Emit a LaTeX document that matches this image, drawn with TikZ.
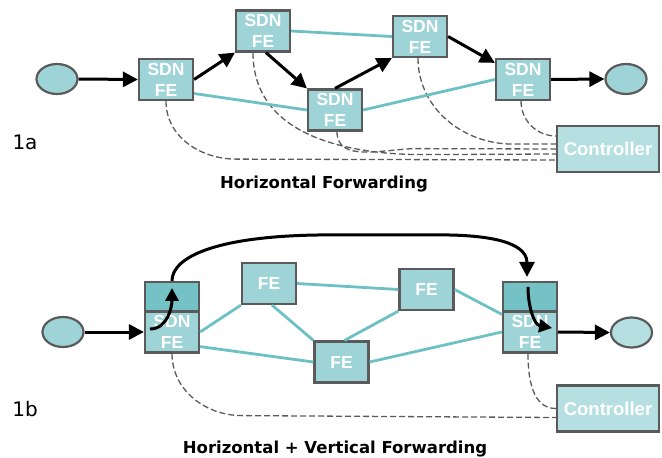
\documentclass[tikz,border=0pt]{standalone}
\usepackage{fontspec}
\usepackage{tikz}
\usetikzlibrary{arrows.meta, positioning, shapes.geometric}
\newfontfamily\boxfont{Liberation Sans}
\newfontfamily\capfont{DejaVu Sans}
\definecolor{feFill}{HTML}{9ED3D7}
\definecolor{feDark}{HTML}{74C1C6}
\definecolor{ctrlFill}{HTML}{B6DFE2}
\definecolor{linkTeal}{HTML}{6DC1C5}
\definecolor{borderGray}{HTML}{5A5A5A}

\tikzset{
  fe/.style={draw=borderGray, line width=2.2pt, fill=feFill, minimum width=54pt, minimum height=41pt,
    inner sep=0pt, align=center, text=white, font=\boxfont\bfseries\fontsize{17.5}{21}\selectfont},
  fetop/.style={fe, fill=feDark, minimum height=29pt},
  ctrl/.style={fe, fill=ctrlFill, minimum width=102pt, minimum height=46pt,
    font=\boxfont\bfseries\fontsize{18.5}{20}\selectfont},
  host/.style={ellipse, draw=borderGray, line width=2.2pt, fill=feFill, minimum width=41pt,
    minimum height=30pt, inner sep=0pt},
  fwd/.style={-{Triangle[length=15pt,width=15pt]}, line width=3pt, black},
  link/.style={draw=linkTeal, line width=2.8pt},
  sig/.style={draw=borderGray, line width=1.3pt, dash pattern=on 6pt off 3pt},
  lbl/.style={font=\capfont\fontsize{20}{22}\selectfont},
  caption/.style={font=\capfont\bfseries\fontsize{16.5}{18}\selectfont},
}

\begin{document}
\begin{tikzpicture}[x=1pt, y=1pt]
    \useasboundingbox (0,0) rectangle (662,-458);

    % 1a: horizontal forwarding
    \node[host] (h1) at (57,-79) {};
    \node[fe] (fe1) at (166,-79.5) {SDN\\FE};
    \node[fe] (fe2) at (263,-31) {SDN\\FE};
    \node[fe] (fe3) at (335,-110) {SDN\\FE};
    \node[fe] (fe4) at (420,-36.5) {SDN\\FE};
    \node[fe] (fe5) at (523,-79.5) {SDN\\FE};
    \node[host] (h2) at (626,-79) {};
    \node[ctrl] (ctrlA) at (608,-149) {Controller};

    % controller channels
    \draw[sig] (fe1.south) to[out=-90,in=180] ++(70,-58) -- ([yshift=-11pt]ctrlA.west);
    \draw[sig] ([xshift=-10pt]fe2.south) .. controls +(0,-90) and +(-60,0) .. ++(170,-102) -- ([yshift=-5pt]ctrlA.west);
    \draw[sig] ([xshift=2pt]fe3.south) to[out=-90,in=180] ++(80,-17) -- ([yshift=0pt]ctrlA.west);
    \draw[sig] ([xshift=-2pt]fe4.south) to[out=-90,in=180] ++(95,-86) -- ([yshift=5pt]ctrlA.west);
    \draw[sig] ([xshift=-2pt]fe5.south) to[out=-90,in=180] ([yshift=13pt]ctrlA.west);

    % links
    \draw[link] ([yshift=-14pt]fe1.east) -- (fe3.west);
    \draw[link] (fe2.east) -- (fe4.west);
    \draw[link] (fe3.east) -- (fe5.west);

    % forwarding path
    \draw[fwd] (h1.east) -- (fe1.west);
    \draw[fwd] (fe1.east) -- (fe2.south west);
    \draw[fwd] ([xshift=3pt]fe2.south) -- (fe3.north west);
    \draw[fwd] (fe3.north) -- (fe4.south west);
    \draw[fwd] (fe4.east) -- ([yshift=-5pt]fe5.north west);
    \draw[fwd] (fe5.east) -- (h2.west);

    \node[lbl] (la) at (25,-142) {1a};
    \node[caption] (capA) at (324,-184) {Horizontal Forwarding};

    % 1b: horizontal + vertical forwarding
    \node[host] (h3) at (63,-332) {};
    \node[fe] (sdnL) at (172,-332) {SDN\\FE};
    \node[fetop] (sdnLt) at (172,-296.5) {};
    \node[fe] (feA) at (269,-283.5) {FE};
    \node[fe] (feB) at (341.5,-362) {FE};
    \node[fe] (feC) at (426.5,-289.5) {FE};
    \node[fe] (sdnR) at (530,-332) {SDN\\FE};
    \node[fetop] (sdnRt) at (530,-296.5) {};
    \node[host, fill=ctrlFill] (h4) at (631.5,-332.5) {};
    \node[ctrl] (ctrlB) at (608,-408.5) {Controller};

    \draw[sig] (sdnL.south) to[out=-90,in=180] ++(70,-62) -- ([yshift=-9pt]ctrlB.west);
    \draw[sig] ([xshift=-2pt]sdnR.south) to[out=-90,in=180] (ctrlB.west);

    \draw[link] (sdnL.east) -- (feA.south west);
    \draw[link] ([yshift=7pt]sdnL.south east) -- (feB.west);
    \draw[link] (feA.east) -- (feC.west);
    \draw[link] ([xshift=3pt]feA.south) -- (feB.north west);
    \draw[link] ([xshift=3pt]feB.north) -- (feC.south west);
    \draw[link] (feB.east) -- (sdnR.west);
    \draw[link] (feC.east) -- ([yshift=-4pt]sdnR.north west);

    \draw[fwd] (h3.east) -- (sdnL.west);
    \draw[fwd, -{Triangle[length=13pt,width=13pt]}] ([shift={(6pt,3pt)}]sdnL.west) to[out=0,in=-90] ([yshift=-7pt]sdnLt.north);
    \draw[fwd] (sdnLt.north) to[out=90,in=180,out distance=25pt,in distance=110pt] ++(158,46) -- ++(110,0)
        to[out=0,in=90] ([shift={(-3pt,4pt)}]sdnRt.north);
    \draw[fwd, -{Triangle[length=13pt,width=13pt]}] ([shift={(-2pt,-6pt)}]sdnRt.north) to[out=-90,in=170] ([shift={(-6pt,4pt)}]sdnR.east);
    \draw[fwd] (sdnR.east) -- (h4.west);

    \node[lbl] (lb) at (25,-409) {1b};
    \node[caption] (capB) at (335,-449) {Horizontal + Vertical Forwarding};
\end{tikzpicture}
\end{document}
